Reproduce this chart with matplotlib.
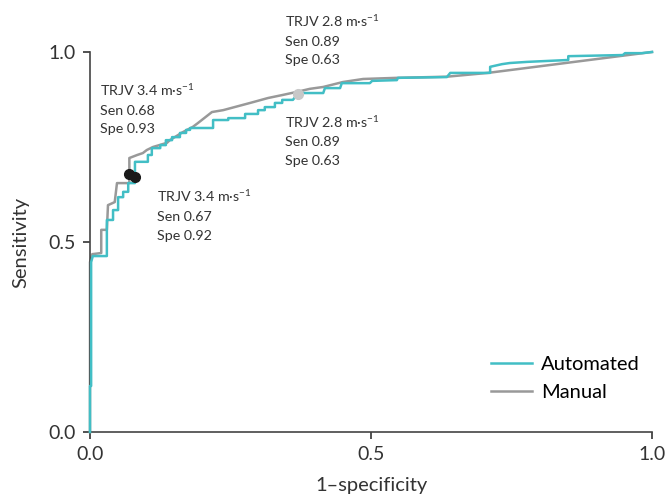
import matplotlib
matplotlib.use("Agg")
from matplotlib import pyplot as plt

plt.rcParams['font.family'] = ['Lato', 'DejaVu Sans']
plt.rcParams['mathtext.fontset'] = 'custom'
plt.rcParams['mathtext.rm'] = 'Lato'
plt.rcParams['mathtext.it'] = 'Lato:italic'

# ROC kurver (1-specificitet, sensitivitet)
auto_fpr = [0, 0, 0.002, 0.002, 0.005, 0.030, 0.030, 0.041, 0.041, 0.050, 0.050, 0.059, 0.059,
            0.068, 0.068, 0.080, 0.080, 0.103, 0.103, 0.110, 0.110, 0.125, 0.125, 0.135, 0.135,
            0.146, 0.146, 0.160, 0.160, 0.171, 0.171, 0.178, 0.178, 0.219, 0.219, 0.246, 0.246,
            0.276, 0.276, 0.299, 0.299, 0.311, 0.311, 0.329, 0.329, 0.342, 0.342, 0.361, 0.368,
            0.379, 0.415, 0.418, 0.445, 0.448, 0.498, 0.502, 0.546, 0.548, 0.635, 0.641, 0.708,
            0.712, 0.712, 0.733, 0.747, 0.778, 0.851, 0.851, 0.948, 0.952, 0.982, 1.0]
auto_tpr = [0, 0.121, 0.121, 0.447, 0.463, 0.463, 0.558, 0.558, 0.584, 0.584, 0.618, 0.618, 0.632,
            0.632, 0.655, 0.655, 0.711, 0.711, 0.729, 0.729, 0.747, 0.747, 0.755, 0.755, 0.768,
            0.768, 0.776, 0.776, 0.787, 0.787, 0.795, 0.795, 0.800, 0.800, 0.821, 0.821, 0.826,
            0.826, 0.837, 0.837, 0.847, 0.847, 0.855, 0.855, 0.866, 0.866, 0.874, 0.874, 0.887,
            0.892, 0.892, 0.905, 0.905, 0.918, 0.918, 0.924, 0.926, 0.932, 0.934, 0.945, 0.945,
            0.945, 0.961, 0.968, 0.971, 0.974, 0.979, 0.989, 0.992, 0.997, 0.997, 1.0]

man_fpr = [0, 0, 0.004, 0.020, 0.020, 0.030, 0.032, 0.044, 0.048, 0.066, 0.070, 0.070, 0.084,
           0.094, 0.101, 0.112, 0.137, 0.142, 0.165, 0.183, 0.192, 0.217, 0.237, 0.285, 0.317,
           0.343, 0.368, 0.391, 0.415, 0.450, 0.486, 0.546, 0.635, 0.708, 1.0]
man_tpr = [0, 0.447, 0.468, 0.471, 0.532, 0.532, 0.597, 0.605, 0.655, 0.655, 0.655, 0.721, 0.729,
           0.734, 0.742, 0.750, 0.761, 0.768, 0.789, 0.803, 0.813, 0.842, 0.847, 0.866, 0.879,
           0.887, 0.895, 0.903, 0.908, 0.921, 0.929, 0.932, 0.935, 0.945, 1.0]

# cut-off punkter: (1-spe, sen)
cut_auto34 = (0.08, 0.67)
cut_man34 = (0.07, 0.68)
cut_28 = (0.37, 0.89)

lab_auto34 = "TRJV 3.4 m·s$^{-1}$\nSen 0.67\nSpe 0.92"
lab_man34 = "TRJV 3.4 m·s$^{-1}$\nSen 0.68\nSpe 0.93"
lab_28 = "TRJV 2.8 m·s$^{-1}$\nSen 0.89\nSpe 0.63"

teal = "#42bec5"
grey = "#999999"

fig = plt.figure(figsize=(6.65, 4.96), dpi=100)
ax = fig.add_axes([90/665, 64/496, 562/665, 380/496])

ax.plot(man_fpr, man_tpr, color=grey, lw=1.8, clip_on=False, zorder=2, label="Manual")
ax.plot(auto_fpr, auto_tpr, color=teal, lw=1.8, clip_on=False, zorder=3, label="Automated")

ax.plot(*cut_man34, 'o', color="#1a1a1a", ms=7, zorder=5)
ax.plot(*cut_auto34, 'o', color="#1a1a1a", ms=7, zorder=5)
ax.plot(*cut_28, 'o', color="#c8c8c8", ms=7, zorder=5)

kw = dict(fontsize=10.3, color="#333333", va="top", ha="left", linespacing=1.66)
ax.text(0.018, 0.921, lab_man34, **kw)
ax.text(0.119, 0.641, lab_auto34, **kw)
ax.text(0.347, 1.102, lab_28, clip_on=False, **kw)
ax.text(0.347, 0.837, lab_28, **kw)

ax.set_xlim(0, 1)
ax.set_ylim(0, 1)
ax.set_xticks([0, 0.5, 1])
ax.set_yticks([0, 0.5, 1])
ax.set_xticklabels(["0.0", "0.5", "1.0"])
ax.set_yticklabels(["0.0", "0.5", "1.0"])
for s in ["top", "right"]:
    ax.spines[s].set_visible(False)
for s in ["left", "bottom"]:
    ax.spines[s].set_color("#444444")
    ax.spines[s].set_linewidth(1.2)
ax.tick_params(labelsize=14, colors="#333333", length=5, width=1.2, pad=5)
ax.set_xlabel("1–specificity", fontsize=14.5, color="#333333", labelpad=10)
ax.set_ylabel("Sensitivity", fontsize=14.5, color="#333333", labelpad=14)

handles, labels = ax.get_legend_handles_labels()
ax.legend(handles[::-1], labels[::-1], loc="lower right", bbox_to_anchor=(1.01, 0.035),
          frameon=False, fontsize=14.5, handlelength=2.0, labelspacing=0.5, handletextpad=0.45)

fig.savefig("out.png", dpi=100)
